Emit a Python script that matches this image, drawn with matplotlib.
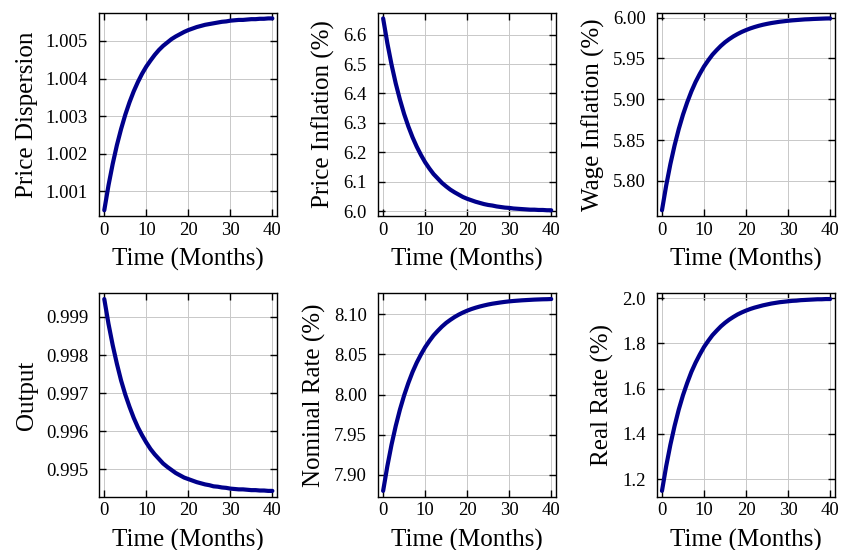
import matplotlib as mpl
mpl.use('Agg')
import matplotlib.pyplot as plt
import numpy as np

plt.rcParams['font.family'] = ['Liberation Serif', 'DejaVu Serif']
plt.rcParams['mathtext.fontset'] = 'stix'

# months 0..40
months = list(range(41))

price_disp = [1.00050, 1.00116, 1.00173, 1.00223, 1.00266, 1.00304, 1.00337, 1.00366, 1.00391, 1.00413,
              1.00432, 1.00448, 1.00463, 1.00476, 1.00487, 1.00496, 1.00505, 1.00512, 1.00518, 1.00524,
              1.00529, 1.00533, 1.00537, 1.00540, 1.00543, 1.00545, 1.00547, 1.00549, 1.00551, 1.00552,
              1.00554, 1.00555, 1.00556, 1.00556, 1.00557, 1.00558, 1.00558, 1.00559, 1.00559, 1.00560,
              1.00560]

price_infl = [6.655, 6.571, 6.498, 6.434, 6.379, 6.330, 6.288, 6.251, 6.219, 6.191,
              6.166, 6.145, 6.126, 6.111, 6.096, 6.084, 6.073, 6.064, 6.056, 6.048,
              6.042, 6.037, 6.032, 6.028, 6.024, 6.021, 6.019, 6.016, 6.014, 6.012,
              6.011, 6.009, 6.008, 6.007, 6.006, 6.005, 6.005, 6.004, 6.004, 6.003,
              6.003]

wage_infl = [5.7640, 5.7942, 5.8206, 5.8435, 5.8636, 5.8811, 5.8962, 5.9096, 5.9212, 5.9311,
             5.9401, 5.9476, 5.9545, 5.9601, 5.9653, 5.9698, 5.9736, 5.9770, 5.9799, 5.9825,
             5.9847, 5.9867, 5.9884, 5.9899, 5.9912, 5.9923, 5.9933, 5.9941, 5.9949, 5.9955,
             5.9961, 5.9966, 5.9970, 5.9974, 5.9978, 5.9980, 5.9983, 5.9985, 5.9987, 5.9989,
             5.9990]

output = [0.99947, 0.99882, 0.99826, 0.99777, 0.99733, 0.99696, 0.99664, 0.99635, 0.99610, 0.99589,
          0.99570, 0.99553, 0.99539, 0.99527, 0.99515, 0.99506, 0.99498, 0.99490, 0.99484, 0.99478,
          0.99474, 0.99470, 0.99466, 0.99463, 0.99460, 0.99458, 0.99455, 0.99454, 0.99452, 0.99451,
          0.99449, 0.99448, 0.99447, 0.99447, 0.99446, 0.99445, 0.99445, 0.99444, 0.99444, 0.99443,
          0.99443]

nominal_rate = [7.8800, 7.9107, 7.9376, 7.9609, 7.9813, 7.9990, 8.0144, 8.0281, 8.0398, 8.0499,
                8.0590, 8.0667, 8.0737, 8.0794, 8.0847, 8.0893, 8.0931, 8.0966, 8.0996, 8.1022,
                8.1045, 8.1065, 8.1082, 8.1097, 8.1110, 8.1122, 8.1132, 8.1140, 8.1148, 8.1155,
                8.1161, 8.1166, 8.1170, 8.1174, 8.1177, 8.1180, 8.1183, 8.1185, 8.1187, 8.1188,
                8.1190]

real_rate = [1.148, 1.257, 1.352, 1.435, 1.508, 1.571, 1.625, 1.674, 1.715, 1.751,
             1.784, 1.811, 1.836, 1.856, 1.875, 1.891, 1.905, 1.917, 1.928, 1.937,
             1.945, 1.952, 1.958, 1.963, 1.968, 1.972, 1.976, 1.979, 1.982, 1.984,
             1.986, 1.988, 1.989, 1.991, 1.992, 1.993, 1.994, 1.995, 1.995, 1.996,
             1.996]

series = [price_disp, price_infl, wage_infl, output, nominal_rate, real_rate]
ylabels = ['Price Dispersion', 'Price Inflation (%)', 'Wage Inflation (%)',
           'Output', 'Nominal Rate (%)', 'Real Rate (%)']
yticks = [[1.001, 1.002, 1.003, 1.004, 1.005],
          [6.0, 6.1, 6.2, 6.3, 6.4, 6.5, 6.6],
          [5.80, 5.85, 5.90, 5.95, 6.00],
          [0.995, 0.996, 0.997, 0.998, 0.999],
          [7.90, 7.95, 8.00, 8.05, 8.10],
          [1.2, 1.4, 1.6, 1.8, 2.0]]
yfmt = ['%.3f', '%.1f', '%.2f', '%.3f', '%.2f', '%.1f']

fig, axes = plt.subplots(2, 3, figsize=(8.41, 5.5), dpi=100)
fig.subplots_adjust(left=0.118, right=0.993, top=0.977, bottom=0.097, wspace=0.565, hspace=0.38)

for ax, y, lab, yt, fm in zip(axes.flat, series, ylabels, yticks, yfmt):
    ax.plot(months, y, color='#00008B', lw=3.0, solid_capstyle='round')
    ax.margins(0.03)
    ax.set_xticks([0, 10, 20, 30, 40])
    ax.set_yticks(yt)
    ax.set_yticklabels([fm % v for v in yt])
    ax.grid(True, color='#c8c8c8', lw=0.7)
    ax.tick_params(direction='in', top=True, right=True, length=5, width=1.0, labelsize=13.5)
    ax.tick_params(axis='x', pad=4)
    ax.tick_params(axis='y', pad=8)
    for sp in ax.spines.values():
        sp.set_linewidth(1.0)
    ax.set_xlabel('Time (Months)', fontsize=18, labelpad=7)
    ax.set_ylabel(lab, fontsize=18, labelpad=6)

plt.savefig('out.png')
